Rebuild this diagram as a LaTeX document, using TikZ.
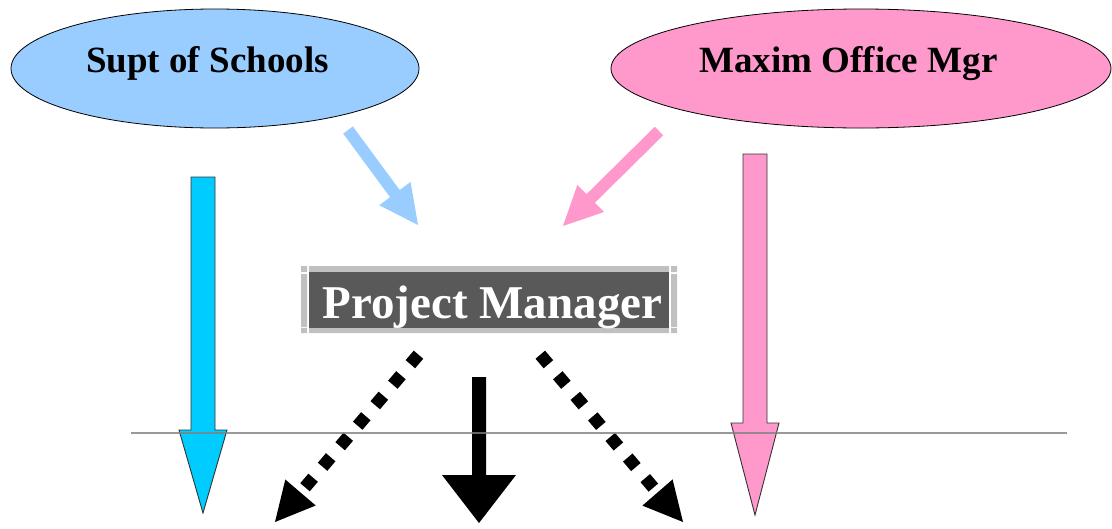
\documentclass[tikz,border=0pt]{standalone}
\usepackage{fontspec}
\setmainfont{Liberation Serif}
\usetikzlibrary{shapes.geometric}
\definecolor{lblue}{HTML}{99CCFF}
\definecolor{lpink}{HTML}{FF99CC}
\definecolor{cyanb}{HTML}{00CCFF}
\definecolor{pmdark}{HTML}{595959}
\definecolor{pmlight}{HTML}{C0C0C0}
\definecolor{rule}{HTML}{808080}
\tikzset{
  oval/.style={ellipse, draw=black, line width=0.8pt, inner sep=0pt},
  ovaltext/.style={anchor=base, inner sep=0pt, font=\bfseries\fontsize{37}{44}\selectfont},
  pmbox/.style={rectangle, fill=pmdark, inner sep=0pt, minimum width=360pt, minimum height=56pt},
  pmtext/.style={anchor=base, inner sep=0pt, text=white, font=\bfseries\fontsize{47}{56}\selectfont},
  frame/.style={fill=pmlight},
  blockarrow/.style={draw=black!80, line width=0.9pt, line join=miter},
  dotline/.style={line width=12.5pt, dash pattern=on 12.5pt off 14.5pt, line cap=butt},
}
\begin{document}
\begin{tikzpicture}[x=1pt,y=-1pt]
\useasboundingbox (0,0) rectangle (1112,528);
% ovals
\node[oval, fill=lblue, minimum width=408pt, minimum height=119pt] (supt) at (215,68.5) {};
\node[ovaltext] (supttext) at (207.5,72) {Supt of Schools};
\node[oval, fill=lpink, minimum width=500pt, minimum height=119pt] (maxim) at (861,68.5) {};
\node[ovaltext] (maximtext) at (848.5,72) {Maxim Office Mgr};
% project manager box with frame
\fill[frame] (301,266) rectangle (307,272) (671,266) rectangle (677,272)
             (301,328) rectangle (307,333) (671,328) rectangle (677,333)
             (309,266) rectangle (669,272) (309,328) rectangle (669,333)
             (301,274) rectangle (307,327) (671,274) rectangle (677,327);
\node[pmbox] (pm) at (489,300) {};
\node[pmtext] (pmtext) at (492.5,318) {Project Manager};
% diagonal arrows
\fill[lblue] (352.8,126.4) -- (399.7,190.0) -- (410.6,182.0) -- (418,225) -- (379.2,205.2) -- (390.1,197.2) -- (343.2,133.6) -- cycle;
\fill[lpink] (654.8,126.7) -- (586.5,194.2) -- (577.3,185.0) -- (563,226) -- (604.1,212.0) -- (594.9,202.8) -- (663.2,135.3) -- cycle;
% vertical block arrows
\filldraw[blockarrow, fill=cyanb] (191,177) -- (215,177) -- (215,430) -- (227,430) -- (203,513) -- (179,430) -- (191,430) -- cycle;
\filldraw[blockarrow, fill=lpink] (743,154) -- (767,154) -- (767,423) -- (779,423) -- (755,515) -- (731,423) -- (743,423) -- cycle;
% black arrows
\fill[black] (472,377) -- (486,377) -- (486,475) -- (516,475) -- (479,523) -- (442,475) -- (472,475) -- cycle;
\coordinate (ls) at (418.5,354.7);
\coordinate (lb) at (300.5,492.5);
\coordinate (rs) at (540.3,354.7);
\coordinate (rb) at (657.5,492.5);
\draw[dotline] (ls) -- (lb);
\draw[dotline] (rs) -- (rb);
\fill[black] (285.3,479.5) -- (275,522) -- (315.7,505.5) -- cycle;
\fill[black] (672.6,479.4) -- (683,522) -- (642.4,505.6) -- cycle;
% horizontal rule
\draw[rule, line width=1.2pt, opacity=0.8] (131,433) coordinate (h1) -- (1067,433) coordinate (h2);
\end{tikzpicture}
\end{document}
